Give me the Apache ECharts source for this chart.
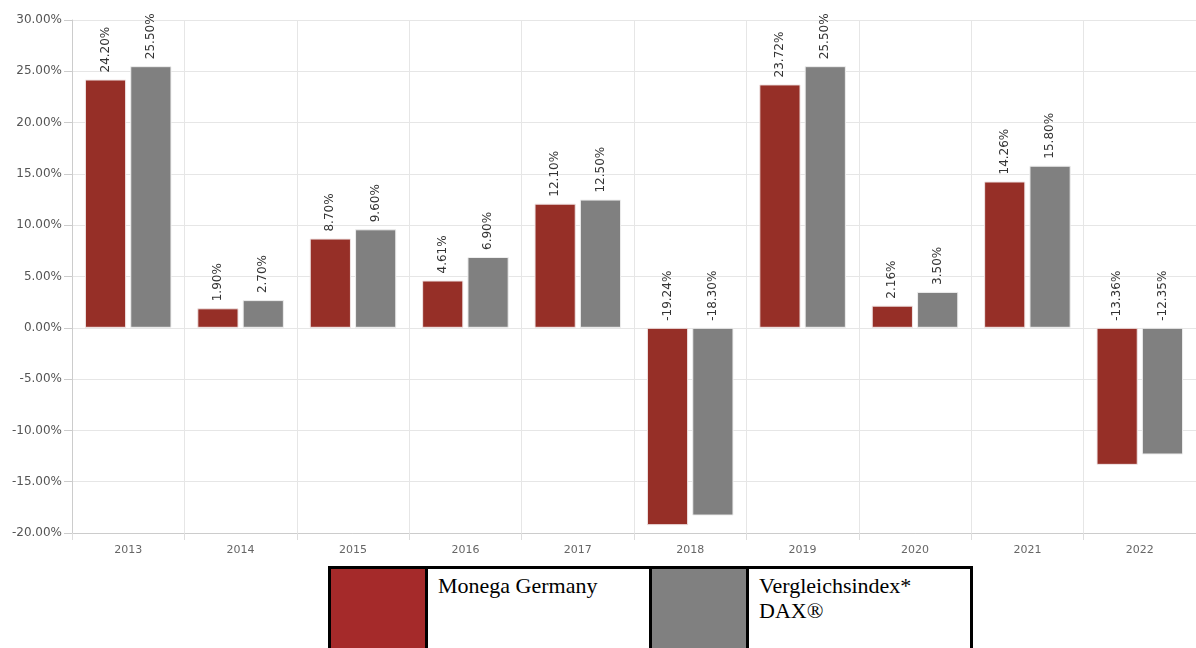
<!doctype html>
<html lang="de">
<head>
    <meta charset="UTF-8">
    <title>Wertentwicklung</title>
    <style>
        body { margin: 0; background: #fff; }
        #main { position: absolute; left: 0; top: 0; width: 1196px; height: 556px; }
        table.legend {
            position: absolute; left: 328px; top: 566px;
            border-collapse: collapse; border: 3px solid #000;
            font-family: "Liberation Serif", "Times New Roman", serif; font-size: 22px;
        }
        table.legend td { border: 3px solid #000; vertical-align: top; height: 80px; padding: 4px 10px; }
        td.swatch { width: 74px; }
        td.txt { width: 201px; line-height: 25px; }
    </style>
</head>
<body>
    <div id="main"></div>
    <table class="legend">
        <tr>
            <td class="swatch" style="background:#a52a2a"></td>
            <td class="txt">Monega Germany</td>
            <td class="swatch" style="background:#808080"></td>
            <td class="txt">Vergleichsindex*<br>DAX®</td>
        </tr>
    </table>
    <script src="https://cdn.jsdelivr.net/npm/echarts@6/dist/echarts.min.js"></script>
    <script>
        var years = ['2013', '2014', '2015', '2016', '2017', '2018', '2019', '2020', '2021', '2022'];
        var fondValues = [24.20, 1.90, 8.70, 4.61, 12.10, -19.24, 23.72, 2.16, 14.26, -13.36];
        var indexValues = [25.50, 2.70, 9.60, 6.90, 12.50, -18.30, 25.50, 3.50, 15.80, -12.35];

        var myChart = echarts.init(document.getElementById('main'));

        // Beschriftung senkrecht über dem Balken (bei negativen Werten über der Nulllinie)
        var barLabel = {
            show: true,
            position: 'top',
            rotate: 90,
            align: 'left',
            verticalAlign: 'middle',
            distance: 7,
            fontFamily: 'DejaVu Sans',
            fontSize: 12,
            color: '#333',
            formatter: function (p) { return p.value.toFixed(2) + '%'; }
        };

        var option = {
            animation: false,
            grid: { left: 72, right: 0, top: 20, bottom: 23, containLabel: false },
            xAxis: {
                type: 'category',
                data: years,
                axisLine: { onZero: false, lineStyle: { color: '#ccc' } },
                axisTick: { show: true, length: 7, lineStyle: { color: '#ddd' } },
                splitLine: { show: true, lineStyle: { color: '#e6e6e6' } },
                axisLabel: { fontFamily: 'DejaVu Sans', fontSize: 11, color: '#666', margin: 12 }
            },
            yAxis: {
                type: 'value',
                min: -20,
                max: 30,
                interval: 5,
                axisLine: { show: true, lineStyle: { color: '#ccc' } },
                axisTick: { show: true, length: 8, lineStyle: { color: '#ccc' } },
                splitLine: { lineStyle: { color: '#e6e6e6' } },
                axisLabel: {
                    fontFamily: 'DejaVu Sans', fontSize: 12, color: '#555', margin: 10,
                    verticalAlign: 'middle', padding: [2, 0, 0, 0],
                    formatter: function (v) { return v.toFixed(2) + '%'; }
                }
            },
            series: [{
                name: 'Monega Germany',
                type: 'bar',
                data: fondValues,
                barGap: '10%',
                barCategoryGap: '23%',
                itemStyle: { color: '#962f27', borderColor: '#f0e6e6', borderWidth: 1 },
                label: barLabel
            }, {
                name: 'Vergleichsindex* DAX®',
                type: 'bar',
                data: indexValues,
                itemStyle: { color: '#808080', borderColor: '#eeeeee', borderWidth: 1 },
                label: barLabel
            }]
        };

        myChart.setOption(option);
    </script>
</body>
</html>
